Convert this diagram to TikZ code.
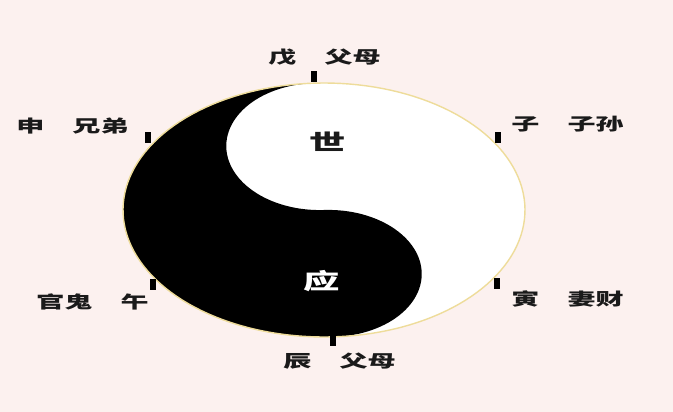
\documentclass[tikz,border=0pt]{standalone}
\usepackage{fontspec}
\usepackage{graphicx}
\newfontfamily\cjk{Noto Sans CJK SC}
\definecolor{bg}{HTML}{FCF1EF}
\definecolor{ink}{HTML}{1A1A1A}
\definecolor{rim}{HTML}{EEDC9A}
\begin{document}
\begin{tikzpicture}[x=1pt,y=1pt,
  lbl/.style={inner sep=0pt, text=ink, font=\cjk\bfseries\fontsize{17}{17}\selectfont},
  big/.style={inner sep=0pt, font=\cjk\bfseries\fontsize{22}{22}\selectfont},
  markbox/.style={rectangle, fill=black, draw=none, minimum width=6pt, minimum height=11pt, inner sep=0pt}]
\fill[bg] (0,0) rectangle (673,412);
\useasboundingbox (0,0) rectangle (673,412);

\begin{scope}[shift={(324,202)}, xscale=201, yscale=127, rotate=3]
  \fill[white] plot[domain=0:360, samples=150, variable=\t] ({cos(\t)},{sin(\t)}) -- cycle;
  \fill[black] plot[domain=90:270, samples=90, variable=\t] ({cos(\t)},{sin(\t)})
     -- plot[domain=-90:90, samples=60, variable=\t] ({0.46*cos(\t)},{-0.5+0.5*sin(\t)})
     -- plot[domain=90:270, samples=60, variable=\t] ({0.46*cos(\t)},{0.5-0.5*sin(\t)}) -- cycle;
  \draw[rim, line width=1.4pt] plot[domain=0:360, samples=150, variable=\t] ({cos(\t)},{sin(\t)}) -- cycle;
\end{scope}

\node[markbox] (mTop) at (314,335) {};
\node[markbox] (mLU) at (147.5,274) {};
\node[markbox] (mLL) at (152.5,127) {};
\node[markbox] (mRU) at (497.5,274) {};
\node[markbox] (mRL) at (497,128) {};
\node[markbox] (mBot) at (332.5,71) {};

\node[lbl] (lTop) at (324.5,354.5) {\scalebox{1.65}[1]{戊　父母}};
\node[lbl] (lLU) at (72.5,285.5) {\scalebox{1.65}[1]{申　兄弟}};
\node[lbl] (lRU) at (567.5,287.5) {\scalebox{1.65}[1]{子　子孙}};
\node[lbl] (lRL) at (567.5,113.5) {\scalebox{1.65}[1]{寅　妻财}};
\node[lbl] (lLL) at (92.5,110.5) {\scalebox{1.65}[1]{官鬼　午}};
\node[lbl] (lBot) at (339.5,51) {\scalebox{1.65}[1]{辰　父母}};

\node[big, text=ink] (shi) at (328,270) {\scalebox{1.65}[1]{世}};
\node[big, text=white] (ying) at (322,131) {\scalebox{1.65}[1]{应}};
\end{tikzpicture}
\end{document}
